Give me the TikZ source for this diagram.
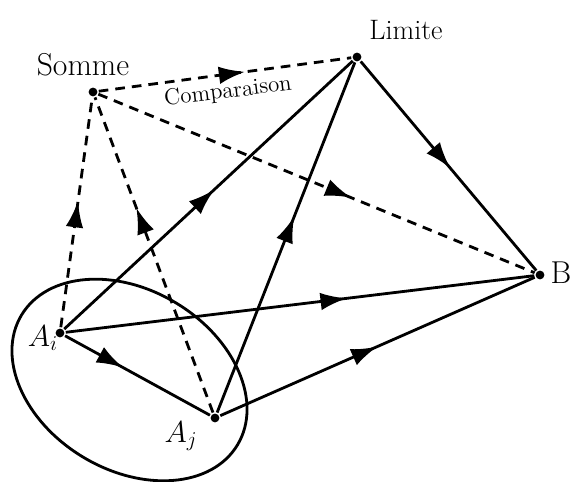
\documentclass[tikz,border=0pt]{standalone}
\usepackage{amsmath, amssymb}
\usepackage{tikz}
\usetikzlibrary{arrows.meta, decorations.markings, positioning}

\begin{document}
\begin{tikzpicture}[x=0.02cm, y=0.02cm, line width=1.6pt,
    point/.style={circle, fill, inner sep=0pt, minimum size=5pt},
    fleche/.style={postaction={decorate, decoration={markings,
        mark=at position #1 with {\arrow{Latex[length=15pt, width=10pt]}}}}},
    tirets/.style={dash pattern=on 5.5pt off 4pt}]
    \useasboundingbox (0,0) rectangle (576,482);

    % Points
    \node[point] (S) at (93,390) {};
    \node[point] (L) at (357,425) {};
    \node[point] (B) at (540,207) {};
    \node[point] (Ai) at (60,149) {};
    \node[point] (Aj) at (215,64) {};

    % Etiquettes
    \node[font=\fontsize{18}{20}\selectfont] (tS) at (83,417) {Somme};
    \node[font=\fontsize{16}{18}\selectfont] (tL) at (406,452) {Limite};
    \node[font=\fontsize{18}{20}\selectfont] (tB) at (561,209) {B};
    \node[font=\LARGE] (tAi) at (43,144) {$A_i$};
    \node[font=\LARGE] (tAj) at (181,46) {$A_j$};
    \node[font=\fontsize{13}{15}\selectfont, rotate=7] (tC) at (228,390) {Comparaison};

    % Ensemble
    \draw (129.5,102) ellipse [x radius=126, y radius=90, rotate=-31];

    % Fleches en tirets
    \draw[tirets, fleche=0.55] (Ai) -- (S);
    \draw[tirets, fleche=0.65] (Aj) -- (S);
    \draw[tirets, fleche=0.58] (S) -- (L);
    \draw[tirets, fleche=0.58] (S) -- (B);

    % Fleches pleines
    \draw[fleche=0.52] (Ai) -- (L);
    \draw[fleche=0.56] (Aj) -- (L);
    \draw[fleche=0.51] (L) -- (B);
    \draw[fleche=0.6] (Ai) -- (B);
    \draw[fleche=0.5] (Aj) -- (B);
    \draw[fleche=0.4] (Ai) -- (Aj);
\end{tikzpicture}
\end{document}
